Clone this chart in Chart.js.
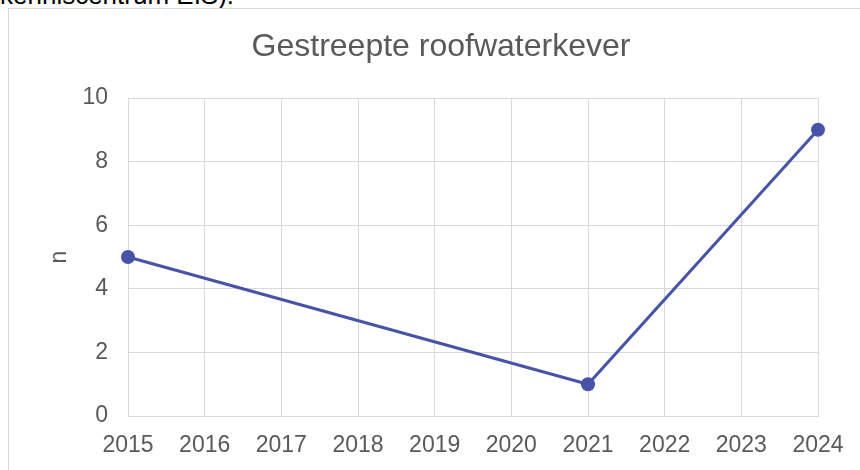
<!DOCTYPE html>
<html>
<head>
<meta charset="utf-8">
<script src="https://cdn.jsdelivr.net/npm/chart.js@4"></script>
<style>
    body { margin: 0; background: #ffffff; overflow: hidden; }
    #wrap { position: relative; width: 860px; height: 470px; }
    #above {
        position: absolute; left: 0; top: -18px;
        font: 26px "Liberation Sans", Arial, sans-serif; line-height: 26px;
        color: #000000; white-space: nowrap;
    }
    #frame {
        position: absolute; left: 8px; top: 8px; width: 900px; height: 500px;
        border-left: 1px solid #d9d9d9; border-top: 1px solid #d9d9d9;
    }
    #lineChart { position: absolute; left: 0; top: 0; }
</style>
</head>
<body>
<div id="wrap">
    <div id="above">kenniscentrum EIS).</div>
    <div id="frame"></div>
    <canvas id="lineChart" width="860" height="470"></canvas>
</div>
<script>
const years = ['2015', '2016', '2017', '2018', '2019', '2020', '2021', '2022', '2023', '2024'];
const counts = [5, null, null, null, null, null, 1, null, null, 9];

const textColor = '#595959';
const gridColor = '#d9d9d9';
const lineColor = '#4653a6';
const fontFamily = '"Liberation Sans", Arial, sans-serif';

const lineEl = document.getElementById('lineChart');
const ctx = lineEl.getContext('2d');

const chart = new Chart(ctx, {
    type: 'line',
    data: {
        labels: years,
        datasets: [{
            label: 'n',
            data: counts,
            borderColor: lineColor,
            backgroundColor: lineColor,
            borderWidth: 3,
            pointRadius: 7,
            pointBorderWidth: 0,
            spanGaps: true,
            tension: 0
        }]
    },
    options: {
        responsive: false,
        animation: false,
        devicePixelRatio: 1,
        layout: {
            // left/right split keeps the title centred on the frame, not the canvas
            padding: { top: 28, right: 0, bottom: 0, left: 22 }
        },
        plugins: {
            legend: { display: false },
            tooltip: { enabled: false },
            title: {
                display: true,
                text: 'Gestreepte roofwaterkever',
                color: textColor,
                font: { family: fontFamily, size: 32, weight: 'normal' },
                padding: { top: 0, bottom: 31.6 }
            }
        },
        scales: {
            x: {
                offset: false,
                grid: { color: gridColor, lineWidth: 1, drawTicks: false },
                border: { color: gridColor },
                ticks: {
                    color: textColor,
                    padding: 16,
                    maxRotation: 0,
                    autoSkip: false,
                    font: { family: fontFamily, size: 23 }
                },
                afterFit: function (scale) {
                    scale.height = 54;
                    scale.paddingRight = 42;
                }
            },
            y: {
                min: 0,
                max: 10,
                grid: { color: gridColor, lineWidth: 1, drawTicks: false },
                border: { display: false },
                ticks: {
                    stepSize: 2,
                    color: textColor,
                    padding: 20,
                    font: { family: fontFamily, size: 23 }
                },
                title: {
                    display: true,
                    text: 'n',
                    color: textColor,
                    padding: { top: 24, bottom: 0 },
                    font: { family: fontFamily, size: 23 }
                },
                afterFit: function (scale) { scale.width = 106; }
            }
        }
    }
});
</script>
</body>
</html>
